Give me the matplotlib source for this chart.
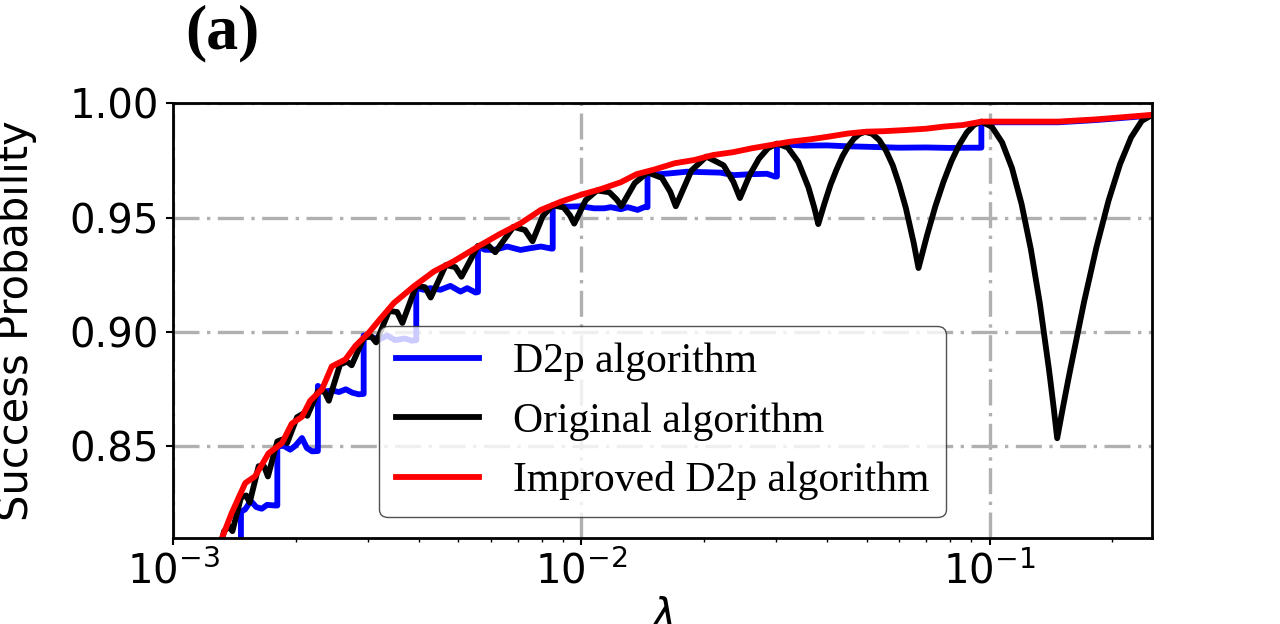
import matplotlib
matplotlib.use("Agg")
import matplotlib.pyplot as plt

# ---------------- data ----------------
# Improved D2p algorithm (red)
red_lam = [0.00128, 0.001318, 0.001393, 0.001503, 0.001589, 0.001714, 0.001849, 0.001954,
           0.002070, 0.002168, 0.002317, 0.002449, 0.002642, 0.002799, 0.003013, 0.003192,
           0.003475, 0.003890, 0.004355, 0.004875, 0.005662, 0.006339, 0.007112, 0.007962,
           0.008913, 0.009977, 0.01117, 0.01250, 0.01365, 0.0152, 0.01694, 0.0189, 0.02104,
           0.0235, 0.02612, 0.0292, 0.03243, 0.0362, 0.04027, 0.045, 0.05000, 0.055, 0.06209,
           0.07, 0.07709, 0.086, 0.09572, 0.1189, 0.1476, 0.1832, 0.2477, 0.25]
red_p = [0.803, 0.810, 0.821, 0.834, 0.837, 0.847, 0.8515, 0.860,
         0.863, 0.870, 0.875, 0.885, 0.888, 0.894, 0.8996, 0.905,
         0.9127, 0.920, 0.9265, 0.931, 0.938, 0.943, 0.9476, 0.9534,
         0.957, 0.960, 0.9625, 0.9655, 0.969, 0.9712, 0.9738, 0.9752, 0.9774,
         0.9786, 0.9803, 0.9818, 0.9832, 0.9842, 0.9854, 0.9868, 0.9876, 0.9878, 0.9883,
         0.9889, 0.9898, 0.9905, 0.992, 0.992, 0.992, 0.993, 0.9949, 0.995]

# Original algorithm (black)
black_lam = [0.001274, 0.001334, 0.001372, 0.001398, 0.001467, 0.001511, 0.001541,
             0.001621, 0.001673, 0.001708, 0.001801, 0.001862, 0.001903, 0.002013,
             0.002085, 0.002133, 0.002264, 0.00235, 0.002408, 0.002565, 0.002669,
             0.002739, 0.002931, 0.003058, 0.003144, 0.003381, 0.003538, 0.003646,
             0.003943, 0.004142, 0.004278, 0.004657, 0.004914, 0.005089, 0.005585,
             0.005924, 0.006156, 0.006819, 0.00728, 0.007596,
             0.008048, 0.008513, 0.009052, 0.009383, 0.00961,
             0.010256, 0.010926, 0.011718, 0.012205, 0.01254,
             0.013514, 0.01453, 0.015758, 0.01652, 0.01704,
             0.018611, 0.02025, 0.022314, 0.023596, 0.02447,
             0.025838, 0.027241, 0.028679, 0.030154, 0.032047, 0.033997, 0.036001, 0.03723,
             0.037644, 0.03806,
             0.039413, 0.040789, 0.042188, 0.043608, 0.045052, 0.046517, 0.048005, 0.049516,
             0.051563, 0.053651, 0.055777, 0.057942, 0.060146, 0.062388, 0.06467, 0.065129,
             0.066055, 0.06699,
             0.070297, 0.07368, 0.077136, 0.080665, 0.084265, 0.087937, 0.091679, 0.095492,
             0.10134, 0.10734, 0.113495, 0.1198, 0.126245, 0.13284, 0.139573, 0.140936,
             0.143681, 0.14645,
             0.151105, 0.155823, 0.158204, 0.170327, 0.182804, 0.195619, 0.208762, 0.222216,
             0.235966, 0.25]
black_p = [0.798, 0.813, 0.8151, 0.813, 0.8277, 0.8286, 0.8255,
           0.8414, 0.8412, 0.8369, 0.8522, 0.8532, 0.8515, 0.8628,
           0.8644, 0.8634, 0.8741, 0.874, 0.870, 0.8858, 0.8871,
           0.8855, 0.8974, 0.8982, 0.8955, 0.9092, 0.9088, 0.904,
           0.9203, 0.9196, 0.9151, 0.9293, 0.9284, 0.9242, 0.9377,
           0.9378, 0.9349, 0.946, 0.9446, 0.9397,
           0.9507, 0.9554, 0.9545, 0.951, 0.9474,
           0.9577, 0.9619, 0.9611, 0.958, 0.955,
           0.9651, 0.9698, 0.9674, 0.9613, 0.955,
           0.9706, 0.9767, 0.9729, 0.9656, 0.9586,
           0.9686, 0.9758, 0.9804, 0.9824, 0.9807, 0.9744, 0.9633, 0.9543,
           0.9508, 0.9472,
           0.9562, 0.9644, 0.971, 0.9768, 0.9812, 0.9845, 0.9866, 0.9875,
           0.9867, 0.984, 0.9793, 0.9729, 0.9642, 0.9542, 0.9418, 0.9394,
           0.9337, 0.928,
           0.9423, 0.955, 0.9657, 0.9747, 0.9818, 0.9872, 0.9906, 0.992,
           0.9897, 0.9829, 0.9717, 0.956, 0.9362, 0.9124, 0.8847, 0.8788,
           0.8665, 0.8536,
           0.8666, 0.879, 0.8849, 0.913, 0.9372, 0.9574, 0.9734, 0.9851,
           0.9923, 0.9949]

# D2p algorithm (blue)
blue_lam = [0.001467, 0.001467, 0.001502, 0.00155, 0.0016, 0.00165, 0.0017, 0.00178, 0.001801,
            0.001801, 0.001866, 0.001937, 0.001993, 0.00207, 0.002128, 0.00219, 0.002264,
            0.002264, 0.00235, 0.00245, 0.00255, 0.00265, 0.00275, 0.00285, 0.002931,
            0.002931, 0.0031, 0.0032, 0.00335, 0.0035, 0.0037, 0.00385, 0.003943,
            0.003943, 0.0041, 0.00427, 0.00452, 0.00478, 0.00506, 0.005255, 0.00551, 0.005585,
            0.005585, 0.0058, 0.00611, 0.00659, 0.0071, 0.00752, 0.00796, 0.00845, 0.008513,
            0.008513, 0.0092, 0.00997, 0.01075, 0.01138, 0.01181, 0.0125, 0.01298, 0.01374, 0.01426, 0.01453,
            0.01453, 0.0155, 0.01651, 0.01815, 0.01994, 0.0219, 0.0236, 0.02595, 0.0285, 0.0298, 0.03015,
            0.03015, 0.035, 0.04, 0.045, 0.05, 0.06, 0.07, 0.08, 0.09, 0.0955,
            0.0955, 0.1189, 0.1476, 0.1832, 0.2477, 0.25]
blue_p = [0.79, 0.8215, 0.8225, 0.8262, 0.8235, 0.8228, 0.8245, 0.8242, 0.8242,
          0.8500, 0.8503, 0.8486, 0.8503, 0.8537, 0.8493, 0.8479, 0.8480,
          0.8765, 0.8740, 0.8745, 0.8738, 0.8750, 0.8735, 0.8728, 0.8730,
          0.8985, 0.8975, 0.8968, 0.8985, 0.8965, 0.8972, 0.8962, 0.8965,
          0.9195, 0.9185, 0.9192, 0.9185, 0.9202, 0.9177, 0.9192, 0.9173, 0.9175,
          0.9375, 0.9360, 0.9359, 0.9374, 0.9359, 0.9367, 0.9374, 0.9365, 0.9365,
          0.9554, 0.9548, 0.9550, 0.9541, 0.9541, 0.9546, 0.9537, 0.9546, 0.9534, 0.9546, 0.9546,
          0.9698, 0.9690, 0.9694, 0.9701, 0.9699, 0.9697, 0.9686, 0.9690, 0.9692, 0.9680, 0.9680,
          0.9822, 0.9815, 0.9816, 0.9812, 0.9810, 0.9806, 0.9807, 0.9805, 0.9806, 0.9806,
          0.9917, 0.9917, 0.9917, 0.9927, 0.9946, 0.9947]

labels = ["D2p algorithm", "Original algorithm", "Improved D2p algorithm"]
y_ticks = [0.85, 0.90, 0.95, 1.00]
y_tick_labels = ["0.85", "0.90", "0.95", "1.00"]

# ---------------- figure ----------------
fig = plt.figure(figsize=(12.8, 6.24), dpi=100)
ax = fig.add_axes([173 / 1280, 1 - 538 / 624, (1152 - 173) / 1280, (538 - 103.3) / 624])

lw = 4.2
ax.plot(blue_lam, blue_p, color="#0000ff", lw=lw, label=labels[0])
ax.plot(black_lam, black_p, color="black", lw=lw, label=labels[1])
ax.plot(red_lam, red_p, color="#ff0000", lw=lw, label=labels[2])

ax.set_xscale("log")
ax.set_xlim(1e-3, 0.25)
ax.set_ylim(0.81, 1.0)
ax.set_yticks(y_ticks)
ax.set_yticklabels(y_tick_labels)

ax.grid(True, which="major", color="#b0b0b0", lw=2.4,
        linestyle=(0, (7.8, 2.25, 1.0, 2.25)))
ax.set_axisbelow(True)

for s in ax.spines.values():
    s.set_linewidth(2.0)
    s.set_color("black")

ax.tick_params(axis="both", which="major", labelsize=29, length=5, width=1.5, pad=5)
ax.tick_params(axis="x", which="minor", length=3, width=1.0)
ax.tick_params(axis="y", which="minor", left=False)

ax.set_ylabel("Success Probability", fontsize=30)
ax.yaxis.set_label_coords(-0.139, 0.5)
ax.set_xlabel(r"$\lambda$", fontsize=30, labelpad=2)

leg = ax.legend(loc="lower center", prop={"family": "Liberation Serif", "size": 30},
                framealpha=0.8, labelspacing=0.5, handlelength=2.0,
                borderaxespad=0.5, fancybox=True)
leg.get_frame().set_edgecolor("0.15")
leg.get_frame().set_linewidth(1.0)

fig.text(222 / 1280, 1 - 33 / 624, "(a)", ha="center", va="center",
         fontsize=46, fontweight="bold", family="Liberation Serif")

fig.savefig("out.png", dpi=100)
